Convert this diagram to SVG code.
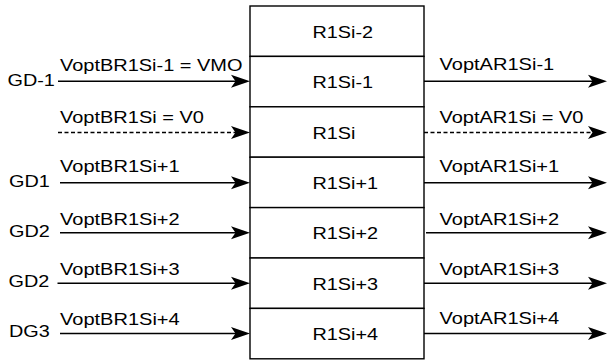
<svg xmlns="http://www.w3.org/2000/svg" width="609" height="360" viewBox="0 0 609 360">
<style>
.t{font-family:"Liberation Sans",Arial,Helvetica,sans-serif;font-size:16.5px;fill:#000}
.cell{fill:#fff;stroke:#000;stroke-width:1.4}
.c{stroke:#000;stroke-width:1.5;fill:none;marker-end:url(#ah)}
.d{stroke-dasharray:4 2.5}
</style>
<defs>
<marker id="ah" markerUnits="userSpaceOnUse" markerWidth="19" markerHeight="13" refX="15" refY="6.5" orient="auto" overflow="visible">
<path d="M0,0 L19,6.5 L0,13 L4.5,6.5 Z" fill="#000"/>
</marker>
</defs>
<rect width="609" height="360" fill="#fff"/>
<g id="cell-r1si-2"><rect class="cell" x="250" y="6" width="174" height="50.4"/><text class="t" x="312.5" y="37.7" textLength="60.6" lengthAdjust="spacingAndGlyphs">R1Si-2</text></g>
<g id="cell-r1si-1"><rect class="cell" x="250" y="56.4" width="174" height="50.4"/><text class="t" x="312.5" y="88.1" textLength="60.6" lengthAdjust="spacingAndGlyphs">R1Si-1</text></g>
<g id="cell-r1si"><rect class="cell" x="250" y="106.8" width="174" height="50.4"/><text class="t" x="312.5" y="138.5" textLength="43" lengthAdjust="spacingAndGlyphs">R1Si</text></g>
<g id="cell-r1si+1"><rect class="cell" x="250" y="157.2" width="174" height="50.4"/><text class="t" x="312.5" y="188.9" textLength="65.6" lengthAdjust="spacingAndGlyphs">R1Si+1</text></g>
<g id="cell-r1si+2"><rect class="cell" x="250" y="207.6" width="174" height="50.4"/><text class="t" x="312.5" y="239.3" textLength="65.6" lengthAdjust="spacingAndGlyphs">R1Si+2</text></g>
<g id="cell-r1si+3"><rect class="cell" x="250" y="258" width="174" height="50.4"/><text class="t" x="312.5" y="289.7" textLength="65.6" lengthAdjust="spacingAndGlyphs">R1Si+3</text></g>
<g id="cell-r1si+4"><rect class="cell" x="250" y="308.4" width="174" height="50.4"/><text class="t" x="312.5" y="340.1" textLength="65.6" lengthAdjust="spacingAndGlyphs">R1Si+4</text></g>

<g id="src-gd-1"><text class="t" x="7.5" y="86" textLength="47.4" lengthAdjust="spacingAndGlyphs">GD-1</text></g>
<g id="src-gd1"><text class="t" x="9" y="187" textLength="40.8" lengthAdjust="spacingAndGlyphs">GD1</text></g>
<g id="src-gd2a"><text class="t" x="9" y="237.3" textLength="40.8" lengthAdjust="spacingAndGlyphs">GD2</text></g>
<g id="src-gd2b"><text class="t" x="8.5" y="287.3" textLength="40.8" lengthAdjust="spacingAndGlyphs">GD2</text></g>
<g id="src-dg3"><text class="t" x="9" y="337.3" textLength="40.8" lengthAdjust="spacingAndGlyphs">DG3</text></g>

<g id="connectors">
<line class="c" x1="58" y1="81.3" x2="246" y2="81.3"/>
<line class="c d" x1="58" y1="132.5" x2="246" y2="132.5"/>
<line class="c" x1="60" y1="182.8" x2="246" y2="182.8"/>
<line class="c" x1="60" y1="232.8" x2="246" y2="232.8"/>
<line class="c" x1="57.5" y1="283.3" x2="246" y2="283.3"/>
<line class="c" x1="60" y1="333.4" x2="246" y2="333.4"/>
<line class="c" x1="424" y1="81.3" x2="603" y2="81.3"/>
<line class="c d" x1="424" y1="132.5" x2="603" y2="132.5"/>
<line class="c" x1="424" y1="182.8" x2="603" y2="182.8"/>
<line class="c" x1="426" y1="232.8" x2="603" y2="232.8"/>
<line class="c" x1="424" y1="283.3" x2="603" y2="283.3"/>
<line class="c" x1="424" y1="333.4" x2="603" y2="333.4"/>
<text class="t" x="60" y="70.5" textLength="182.5" lengthAdjust="spacingAndGlyphs">VoptBR1Si-1 = VMO</text>
<text class="t" x="60" y="123.2" textLength="143.9" lengthAdjust="spacingAndGlyphs">VoptBR1Si = V0</text>
<text class="t" x="60" y="172.4" textLength="119.7" lengthAdjust="spacingAndGlyphs">VoptBR1Si+1</text>
<text class="t" x="60" y="224.8" textLength="119.7" lengthAdjust="spacingAndGlyphs">VoptBR1Si+2</text>
<text class="t" x="60" y="274.8" textLength="119.7" lengthAdjust="spacingAndGlyphs">VoptBR1Si+3</text>
<text class="t" x="60" y="324.6" textLength="119.7" lengthAdjust="spacingAndGlyphs">VoptBR1Si+4</text>
<text class="t" x="439.5" y="70.2" textLength="114.7" lengthAdjust="spacingAndGlyphs">VoptAR1Si-1</text>
<text class="t" x="439.5" y="123.2" textLength="143.9" lengthAdjust="spacingAndGlyphs">VoptAR1Si = V0</text>
<text class="t" x="439.5" y="172.4" textLength="119.7" lengthAdjust="spacingAndGlyphs">VoptAR1Si+1</text>
<text class="t" x="439.5" y="224.8" textLength="119.7" lengthAdjust="spacingAndGlyphs">VoptAR1Si+2</text>
<text class="t" x="439.5" y="274.5" textLength="119.7" lengthAdjust="spacingAndGlyphs">VoptAR1Si+3</text>
<text class="t" x="439.5" y="324.3" textLength="119.7" lengthAdjust="spacingAndGlyphs">VoptAR1Si+4</text>
</g>
</svg>
